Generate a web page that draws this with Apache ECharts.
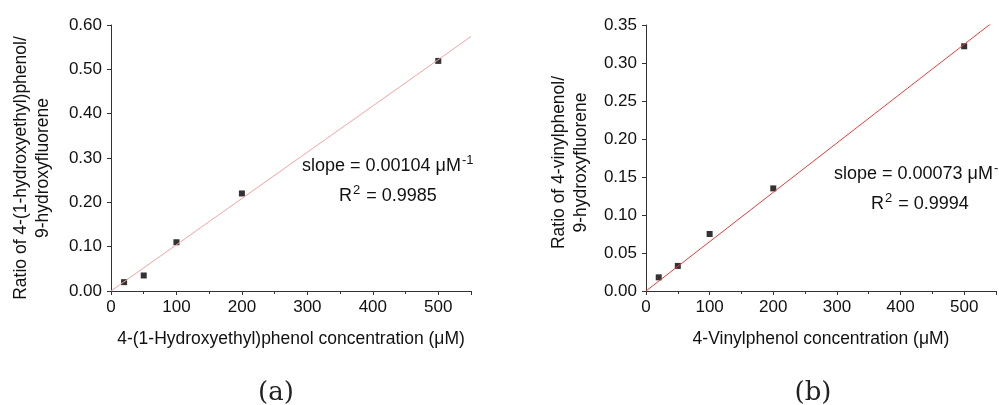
<!DOCTYPE html>
<html>
<head>
<meta charset="utf-8">
<script src="https://cdn.jsdelivr.net/npm/echarts@6/dist/echarts.min.js"></script>
<style>
  html, body { margin: 0; padding: 0; background: #fff; }
  #chart { width: 999px; height: 405px; }
</style>
</head>
<body>
<div id="chart"></div>
<script>
// measured points (a)
const concA = [20, 50, 100, 200, 500]
const ratioA = [0.020, 0.035, 0.110, 0.220, 0.519]
// measured points (b)
const concB = [20, 50, 100, 200, 500]
const ratioB = [0.018, 0.033, 0.075, 0.135, 0.322]
// fit lines
const fitXA = [0, 550]
const fitYA = [0, 0.574]
const fitXB = [0, 550]
const fitYB = [0, 0.357]

const font = '"Liberation Sans", Arial, sans-serif'
const pairs = (xs, ys) => xs.map((x, i) => [x, ys[i]])

function xAxisOf(idx, name) {
  return {
    gridIndex: idx,
    type: 'value',
    min: 0,
    max: 550,
    interval: 100,
    name: name,
    nameLocation: 'middle',
    nameGap: 39,
    nameTextStyle: { fontFamily: font, fontSize: 17.5, color: '#111' },
    axisLine: { show: true, lineStyle: { color: '#333', width: 1 } },
    axisTick: { show: true, length: 4, lineStyle: { color: '#333' } },
    minorTick: { show: true, splitNumber: 2, length: 3, lineStyle: { color: '#333' } },
    axisLabel: {
      fontFamily: font, fontSize: 17, color: '#111', margin: 8,
      formatter: (v) => (v > 500 ? '' : String(v)),
    },
    splitLine: { show: false },
  }
}

function yAxisOf(idx, max, step, name, gap, shift) {
  return {
    gridIndex: idx,
    type: 'value',
    min: 0,
    max: max,
    interval: step,
    name: name,
    nameLocation: 'middle',
    nameGap: gap,
    nameRotate: 90,
    nameTextStyle: {
      fontFamily: font, fontSize: 17.5, color: '#111', lineHeight: 22,
      padding: [0, shift, 0, 0],
    },
    axisLine: { show: true, lineStyle: { color: '#333', width: 1 } },
    axisTick: { show: true, length: 4, lineStyle: { color: '#333' } },
    axisLabel: {
      fontFamily: font, fontSize: 17, color: '#111', margin: 9,
      formatter: (v) => v.toFixed(2),
    },
    splitLine: { show: false },
  }
}

const supText = (x, y, main, sup, tail) => ({
  type: 'text', left: x, top: y,
  style: {
    text: '{m|' + main + '}{s|' + sup + '}' + (tail ? '{m|' + tail + '}' : ''),
    rich: {
      m: { fontFamily: font, fontSize: 18, fill: '#111' },
      s: { fontFamily: font, fontSize: 13, fill: '#111', padding: [0, 1, 11, 1] },
    },
  },
})

const chart = echarts.init(document.getElementById('chart'))
const option = {
  animation: false,
  backgroundColor: '#fff',
  grid: [
    { left: 111, top: 25, width: 360, height: 266 },
    { left: 646, top: 25, width: 361, height: 266 },
  ],
  xAxis: [
    xAxisOf(0, '4-(1-Hydroxyethyl)phenol concentration (μM)'),
    xAxisOf(1, '4-Vinylphenol concentration (μM)'),
  ],
  yAxis: [
    yAxisOf(0, 0.6, 0.1, 'Ratio of 4-(1-hydroxyethyl)phenol/\n9-hydroxyfluorene', 57, 20),
    yAxisOf(1, 0.35, 0.05, 'Ratio of 4-vinylphenol/\n9-hydroxyfluorene', 54, 9),
  ],
  series: [
    {
      type: 'line', xAxisIndex: 0, yAxisIndex: 0,
      data: pairs(fitXA, fitYA), showSymbol: false,
      lineStyle: { color: '#f4a3a3', width: 1 },
    },
    {
      type: 'scatter', xAxisIndex: 0, yAxisIndex: 0,
      data: pairs(concA, ratioA), symbol: 'rect', symbolSize: 6,
      itemStyle: { color: '#000' },
    },
    {
      type: 'line', xAxisIndex: 1, yAxisIndex: 1,
      data: pairs(fitXB, fitYB), showSymbol: false,
      lineStyle: { color: '#ea3b3b', width: 1 },
    },
    {
      type: 'scatter', xAxisIndex: 1, yAxisIndex: 1,
      data: pairs(concB, ratioB), symbol: 'rect', symbolSize: 6,
      itemStyle: { color: '#000' },
    },
  ],
  graphic: [
    supText(302, 154, 'slope = 0.00104 μM', '-1'),
    supText(339, 184, 'R', '2', ' = 0.9985'),
    supText(834, 162, 'slope = 0.00073 μM', '-1'),
    supText(871, 192, 'R', '2', ' = 0.9994'),
    {
      type: 'text', x: 276, y: 393,
      style: {
        text: '(a)', align: 'center', verticalAlign: 'middle',
        fontFamily: '"DejaVu Serif", "Liberation Serif", serif', fontSize: 26, fill: '#222',
      },
    },
    {
      type: 'text', x: 813, y: 393,
      style: {
        text: '(b)', align: 'center', verticalAlign: 'middle',
        fontFamily: '"DejaVu Serif", "Liberation Serif", serif', fontSize: 26, fill: '#222',
      },
    },
  ],
}
chart.setOption(option)
</script>
</body>
</html>
